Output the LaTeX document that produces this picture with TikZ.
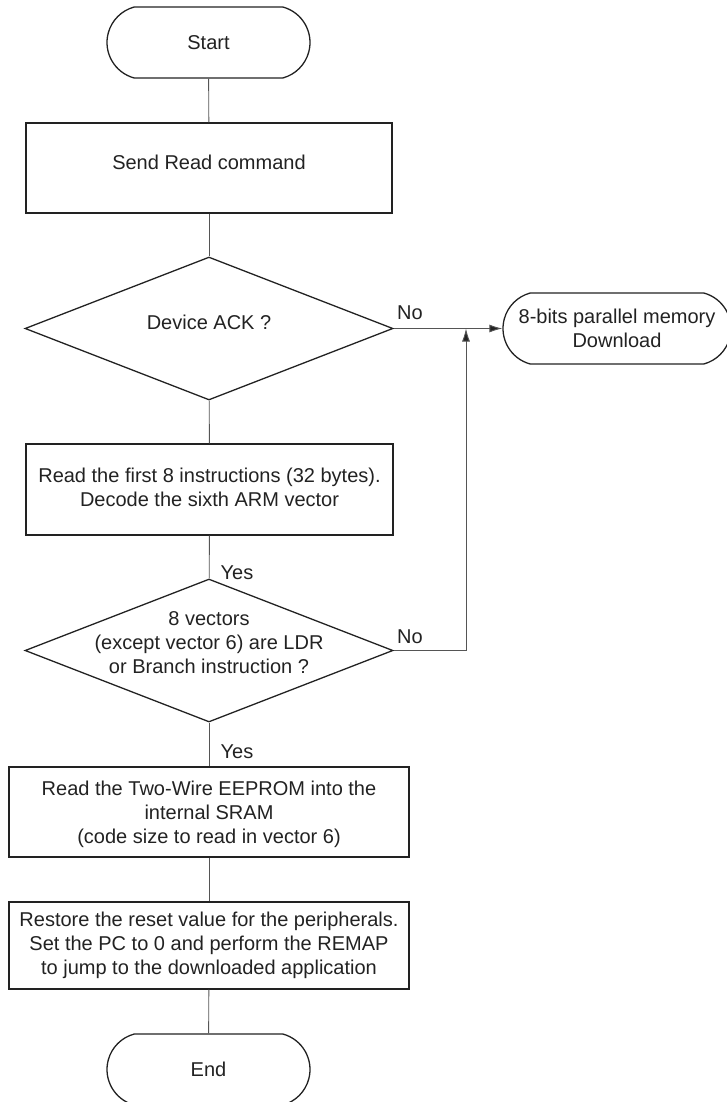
\documentclass[tikz,border=0pt]{standalone}
\usepackage{fontspec}
\setmainfont{Liberation Sans}
\usetikzlibrary{shapes.geometric,shapes.misc,arrows.meta}
\definecolor{ink}{HTML}{222222}
\definecolor{wire}{HTML}{555555}
\begin{document}
\begin{tikzpicture}[x=1pt,y=-1pt,
  every node/.style={font=\fontsize{20}{24}\selectfont, text=ink},
  term/.style={draw=ink, line width=1.3pt, rounded rectangle, rounded rectangle arc length=150, inner sep=0pt, minimum width=203pt, minimum height=71pt},
  procbox/.style={draw=ink, line width=1.3pt, rectangle, inner sep=0pt, align=center},
  decide/.style={draw=ink, line width=1.3pt, diamond, inner sep=0pt, minimum width=368pt, minimum height=143pt, align=center},
  conn/.style={draw=wire, line width=0.9pt},
  arr/.style={conn, -{Latex[length=13pt,width=8pt,fill=ink]}},
  lbl/.style={inner sep=0pt}
]
\useasboundingbox (0,0) rectangle (726,1102);
\node[term] (start) at (208.5,42.5) {Start};
\node[procbox, minimum width=366pt, minimum height=90pt] (send) at (209,168) {};
\node[lbl] (sendt) at (209,162) {Send Read command};
\node[decide] (d1) at (209,328.5) {};
\node[lbl] (d1t) at (209,322) {Device ACK ?};
\node[procbox, minimum width=367pt, minimum height=91pt] (read8) at (209.5,489.5) {};
\node[lbl, align=center] (read8t) at (209.5,487) {Read the first 8 instructions (32 bytes).\\Decode the sixth ARM vector};
\node[decide] (d2) at (209,650.5) {};
\node[lbl, align=center] (d2t) at (209,643) {8 vectors\\(except vector 6) are LDR\\or Branch instruction ?};
\node[procbox, minimum width=400pt, minimum height=90pt] (eeprom) at (209,812) {};
\node[lbl, align=center] (eepromt) at (209,814) {Read the Two-Wire EEPROM into the\\internal SRAM\\(code size to read in vector 6)};
\node[procbox, minimum width=400pt, minimum height=87pt] (restore) at (209,945.5) {};
\node[lbl, align=center] (restoret) at (209,945) {Restore the reset value for the peripherals.\\Set the PC to 0 and perform the REMAP\\to jump to the downloaded application};
\node[term] (end) at (208.5,1069.5) {End};
\node[term, minimum width=228pt, align=center] (dl) at (617,328.5) {8-bits parallel memory\\Download};

\coordinate (merge) at (466,328.5);

\draw[conn] (start) -- (send);
\draw[conn] (send) -- (d1);
\draw[conn] (d1) -- (read8);
\draw[conn] (read8) -- (d2);
\draw[conn] (d2) -- (eeprom);
\draw[conn] (eeprom) -- (restore);
\draw[conn] (restore) -- (end);
\draw[arr] (d1.east) -- (dl.west);
\draw[arr] (d2.east) -| (merge);

\node[lbl] (no1) at (410,313) {No};
\node[lbl] (no2) at (410,637) {No};
\node[lbl] (yes1) at (237,573) {Yes};
\node[lbl] (yes2) at (237,752) {Yes};
\end{tikzpicture}
\end{document}
